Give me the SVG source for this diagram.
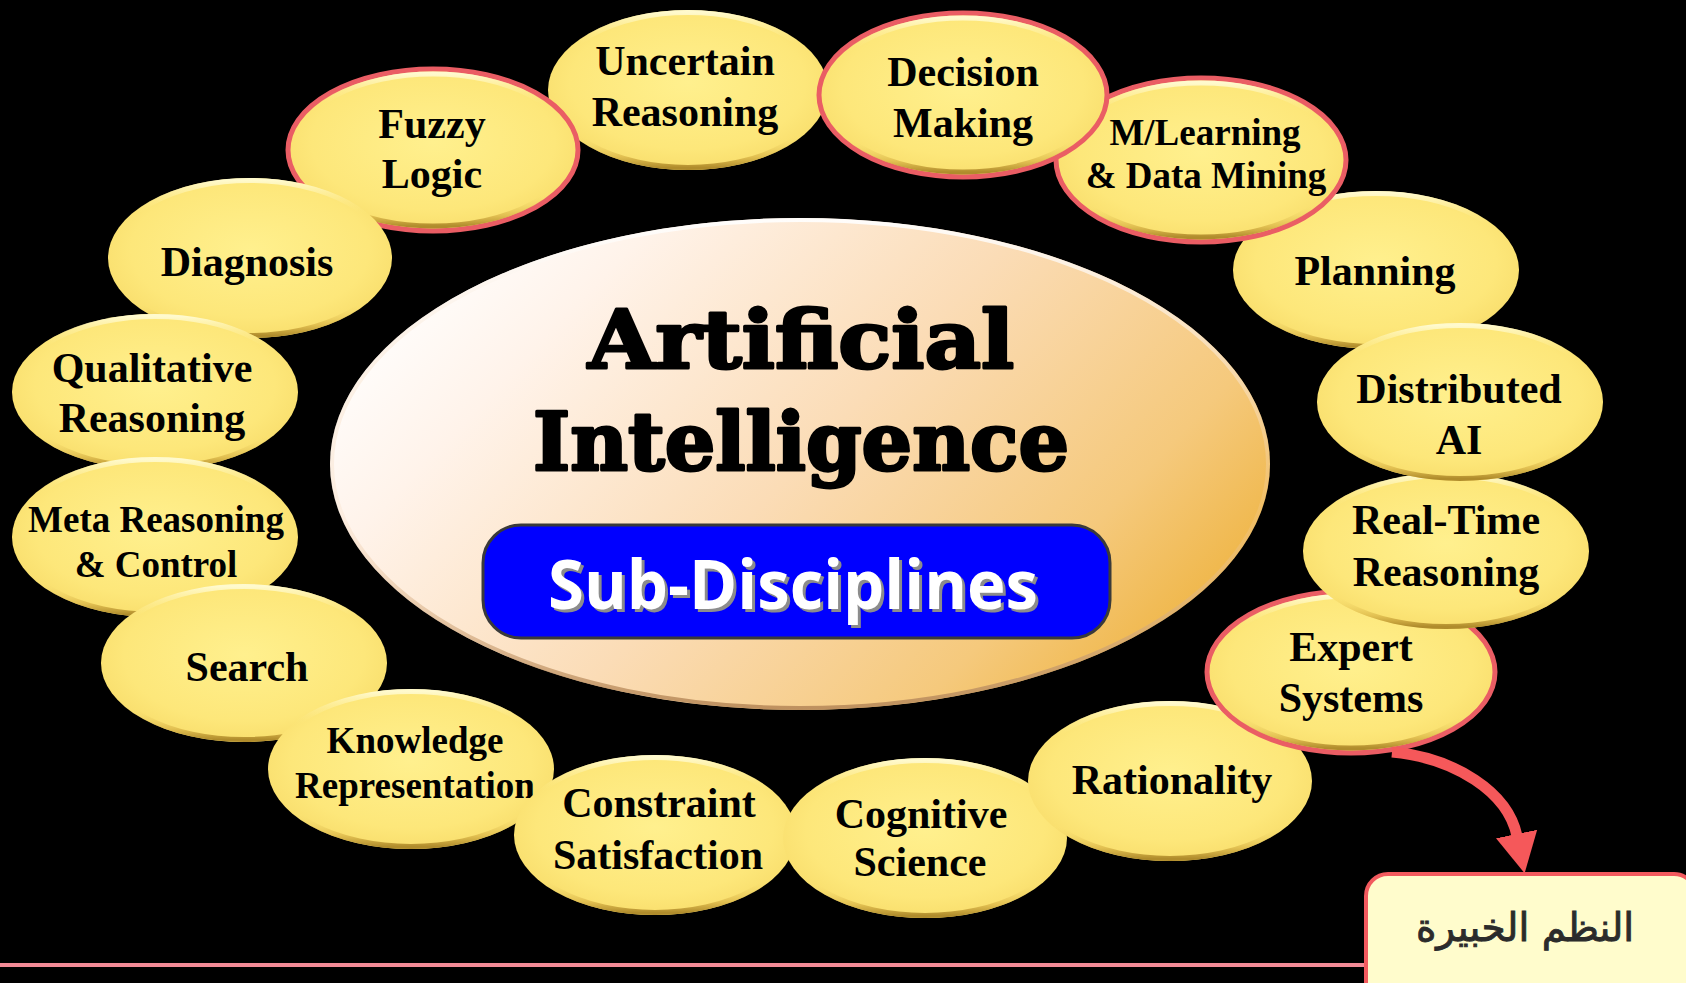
<svg xmlns="http://www.w3.org/2000/svg" width="1686" height="983" viewBox="0 0 1686 983">
  <defs>
    <radialGradient id="gy" cx="0.5" cy="0.45" r="0.6">
      <stop offset="0" stop-color="#fff08e"/>
      <stop offset="0.7" stop-color="#fde77a"/>
      <stop offset="1" stop-color="#f7db68"/>
    </radialGradient>
    <linearGradient id="bv" x1="0" y1="0" x2="0" y2="1">
      <stop offset="0" stop-color="#fffbd2" stop-opacity="0.95"/>
      <stop offset="0.22" stop-color="#fde77a" stop-opacity="0"/>
      <stop offset="0.78" stop-color="#fde77a" stop-opacity="0"/>
      <stop offset="0.93" stop-color="#dcb84a" stop-opacity="0.8"/>
      <stop offset="1" stop-color="#b08c2c" stop-opacity="1"/>
    </linearGradient>
    <linearGradient id="cg" x1="0" y1="0.25" x2="1" y2="0.75">
      <stop offset="0" stop-color="#ffffff"/>
      <stop offset="0.18" stop-color="#fff3ea"/>
      <stop offset="0.5" stop-color="#fbdcb6"/>
      <stop offset="0.8" stop-color="#f5c97c"/>
      <stop offset="1" stop-color="#eeb23c"/>
    </linearGradient>
    <linearGradient id="crim" x1="0" y1="0" x2="0" y2="1">
      <stop offset="0" stop-color="#ffffff" stop-opacity="0.9"/>
      <stop offset="0.6" stop-color="#f3d2b0" stop-opacity="0.2"/>
      <stop offset="1" stop-color="#b88a5a" stop-opacity="0.9"/>
    </linearGradient>
    <marker id="ah" markerUnits="userSpaceOnUse" markerWidth="50" markerHeight="50" viewBox="0 -25 50 50" refX="2" refY="0" orient="auto">
      <path d="M0,-21 L40,0 L0,21 Z" fill="#f5585a"/>
    </marker>
    <style>
      .base{fill:url(#gy);}
      .red{stroke:#ea5d64;stroke-width:5;}
      .bev{fill:none;stroke:url(#bv);stroke-width:5;}
      .t{font-family:"Liberation Serif","Times New Roman",serif;font-weight:bold;font-size:42px;fill:#000;text-anchor:middle;}
      .s{font-size:37px;}
      .title{font-family:"DejaVu Serif",serif;font-weight:bold;font-size:80px;fill:#000;stroke:#000;stroke-width:3;stroke-linejoin:round;text-anchor:middle;}
      .sub{font-family:"Open Sans","DejaVu Sans",sans-serif;font-weight:bold;font-size:68px;text-anchor:middle;}
      .conn{fill:none;stroke:#f5585a;stroke-width:11;}
    </style>
  </defs>

  <rect x="0" y="0" width="1686" height="983" fill="#000"/>

  <!-- central node -->
  <g id="center">
    <ellipse cx="800" cy="464" rx="470" ry="246" fill="url(#cg)"/>
    <ellipse cx="800" cy="464" rx="468" ry="244" fill="none" stroke="url(#crim)" stroke-width="4"/>
    <text class="title" x="801" y="368" textLength="426" lengthAdjust="spacingAndGlyphs">Artificial</text>
    <text class="title" x="801" y="470" textLength="536" lengthAdjust="spacingAndGlyphs">Intelligence</text>
    <rect x="483" y="525" width="627" height="113" rx="38" ry="38" fill="#0000ff" stroke="#3a3a3a" stroke-width="3"/>
    <text class="sub" x="796" y="612" fill="#8c8c8c" textLength="490" lengthAdjust="spacingAndGlyphs">Sub-Disciplines</text>
    <text class="sub" x="793" y="609" fill="#ffffff" textLength="490" lengthAdjust="spacingAndGlyphs">Sub-Disciplines</text>
  </g>

  <g id="n-uncertain">
    <ellipse class="base" cx="688" cy="90" rx="140" ry="80"/>
    <ellipse class="bev" cx="688" cy="90" rx="137.5" ry="77.5"/>
    <text class="t" x="685" y="75">Uncertain</text>
    <text class="t" x="685" y="126">Reasoning</text>
  </g>
  <g id="n-planning">
    <ellipse class="base" cx="1376" cy="270" rx="143" ry="79"/>
    <ellipse class="bev" cx="1376" cy="270" rx="140.5" ry="76.5"/>
    <text class="t" x="1375" y="285">Planning</text>
  </g>
  <g id="n-mlearning">
    <ellipse class="base red" cx="1201" cy="160" rx="145" ry="82"/>
    <ellipse class="bev" cx="1201" cy="160" rx="140" ry="77"/>
    <text class="t s" x="1205" y="145">M/Learning</text>
    <text class="t s" x="1206" y="188">&amp; Data Mining</text>
  </g>
  <g id="n-decision">
    <ellipse class="base red" cx="963" cy="95" rx="144" ry="82"/>
    <ellipse class="bev" cx="963" cy="95" rx="139" ry="77"/>
    <text class="t" x="963" y="86">Decision</text>
    <text class="t" x="963" y="137">Making</text>
  </g>
  <g id="n-fuzzy">
    <ellipse class="base red" cx="433" cy="150" rx="145" ry="81"/>
    <ellipse class="bev" cx="433" cy="150" rx="140" ry="76"/>
    <text class="t" x="432" y="138">Fuzzy</text>
    <text class="t" x="432" y="188">Logic</text>
  </g>
  <g id="n-diagnosis">
    <ellipse class="base" cx="250" cy="258" rx="142" ry="80"/>
    <ellipse class="bev" cx="250" cy="258" rx="139.5" ry="77.5"/>
    <text class="t" x="247" y="276">Diagnosis</text>
  </g>
  <g id="n-qualitative">
    <ellipse class="base" cx="155" cy="392" rx="143" ry="78"/>
    <ellipse class="bev" cx="155" cy="392" rx="140.5" ry="75.5"/>
    <text class="t" x="152" y="382">Qualitative</text>
    <text class="t" x="152" y="432">Reasoning</text>
  </g>
  <g id="n-meta">
    <ellipse class="base" cx="155" cy="537" rx="143" ry="80"/>
    <ellipse class="bev" cx="155" cy="537" rx="140.5" ry="77.5"/>
    <text class="t s" x="156" y="532">Meta Reasoning</text>
    <text class="t s" x="156" y="577">&amp; Control</text>
  </g>
  <g id="n-search">
    <ellipse class="base" cx="244" cy="663" rx="143" ry="79"/>
    <ellipse class="bev" cx="244" cy="663" rx="140.5" ry="76.5"/>
    <text class="t" x="247" y="681">Search</text>
  </g>
  <g id="n-knowledge">
    <ellipse class="base" cx="411" cy="769" rx="143" ry="80"/>
    <ellipse class="bev" cx="411" cy="769" rx="140.5" ry="77.5"/>
    <text class="t s" x="415" y="753">Knowledge</text>
    <text class="t s" x="415" y="798">Representation</text>
  </g>
  <g id="n-constraint">
    <ellipse class="base" cx="655" cy="835" rx="141" ry="80"/>
    <ellipse class="bev" cx="655" cy="835" rx="138.5" ry="77.5"/>
    <text class="t" x="659" y="817">Constraint</text>
    <text class="t" x="658" y="869">Satisfaction</text>
  </g>
  <g id="n-cognitive">
    <ellipse class="base" cx="925" cy="838" rx="142" ry="80"/>
    <ellipse class="bev" cx="925" cy="838" rx="139.5" ry="77.5"/>
    <text class="t" x="921" y="828">Cognitive</text>
    <text class="t" x="920" y="876">Science</text>
  </g>
  <g id="n-rationality">
    <ellipse class="base" cx="1170" cy="781" rx="142" ry="80"/>
    <ellipse class="bev" cx="1170" cy="781" rx="139.5" ry="77.5"/>
    <text class="t" x="1172" y="794">Rationality</text>
  </g>
  <g id="n-expert">
    <ellipse class="base red" cx="1351" cy="672" rx="144" ry="81"/>
    <ellipse class="bev" cx="1351" cy="672" rx="139" ry="76"/>
    <text class="t" x="1351" y="661">Expert</text>
    <text class="t" x="1351" y="712">Systems</text>
  </g>
  <g id="n-realtime">
    <ellipse class="base" cx="1446" cy="551" rx="143" ry="78"/>
    <ellipse class="bev" cx="1446" cy="551" rx="140.5" ry="75.5"/>
    <text class="t" x="1446" y="534">Real-Time</text>
    <text class="t" x="1446" y="586">Reasoning</text>
  </g>
  <g id="n-distributed">
    <ellipse class="base" cx="1460" cy="402" rx="143" ry="79"/>
    <ellipse class="bev" cx="1460" cy="402" rx="140.5" ry="76.5"/>
    <text class="t" x="1459" y="403">Distributed</text>
    <text class="t" x="1459" y="454">AI</text>
  </g>

  <!-- bottom rule -->
  <line x1="0" y1="965" x2="1366" y2="965" stroke="#f28a96" stroke-width="4"/>

  <g id="n-arabic">
    <rect x="1366" y="874" width="330" height="140" rx="22" ry="22" fill="#fffccc" stroke="#f25a5e" stroke-width="4"/>
    <text x="1525" y="941" font-family="'DejaVu Sans',sans-serif" font-size="39" fill="#2b2b2b" stroke="#2b2b2b" stroke-width="0.9" text-anchor="middle">النظم الخبيرة</text>
  </g>

  <g id="connectors">
    <path class="conn" d="M1392,752 C1455,758 1508,792 1517,836" marker-end="url(#ah)"/>
  </g>
</svg>
